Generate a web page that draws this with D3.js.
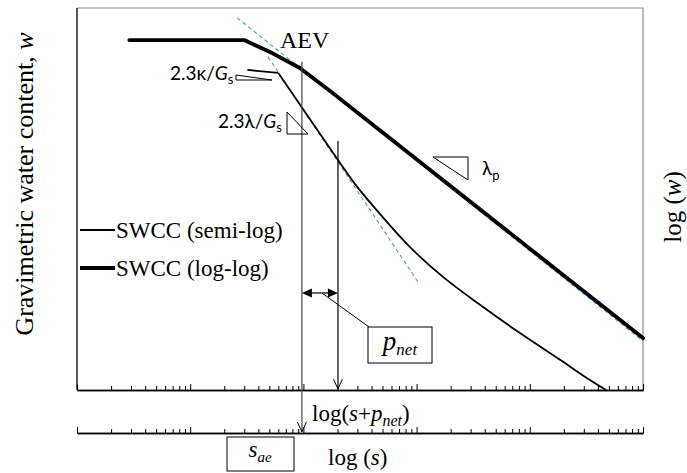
<!DOCTYPE html>
<html>
<head>
<meta charset="utf-8">
<script src="https://cdn.jsdelivr.net/npm/d3@7"></script>
<style>
  body { margin: 0; background: #fff; }
  svg { display: block; }
</style>
</head>
<body>
<svg id="chart" width="687" height="473"></svg>
<script>
// SWCC schematic: semi-log vs log-log, suction on a log axis

// suction s (log axis, arbitrary units) and log(w) in % of the plot height
const sLogLog = [2.9, 30, 53, 93, 172, 1e5]
const wLogLog = [91.6, 91.6, 88.2, 84.3, 78.3, 13.6]

const sSemiLog = [32, 60, 202, 286, 412, 875, 1710, 3630, 8190, 18500, 34000, 47100]
const wSemiLog = [83.8, 83.0, 60.2, 53.9, 48.2, 37.4, 29.6, 22.3, 14.9, 7.9, 2.6, 0]

const sTanLogLog = [26, 1e5]
const wTanLogLog = [97.4, 12.8]
const sTanSemi = [48.7, 1028]
const wTanSemi = [87.2, 28.3]

// AEV marker and the shifted (s + p_net) marker
const sMarks = [97, 202]
const wMarkTop = [85.9, 65.2]
const wNetArrow = 25.4

const decades = [1, 10, 100, 1000, 10000, 100000]
const minorTicks = []
for (const d of decades.slice(0, -1)) for (let m = 2; m <= 9; m++) minorTicks.push(m * d)

const svg = d3.select('#chart')
const L = 77, R = 643, T = 8, B = 390, B2 = 433

const x = d3.scaleLog().domain([1, 1e5]).range([L, R])
const y = d3.scaleLinear().domain([0, 100]).range([B, T])

const serif = '"Liberation Serif", "Times New Roman", serif'
const sans = 'Lato, "Liberation Sans", sans-serif'

// frame (top/right grey, left/bottom black)
svg.append('path')
  .attr('d', `M${L},${T}H${R}V${B}`)
  .attr('fill', 'none').attr('stroke', '#8c8c8c').attr('stroke-width', 1.2)
svg.append('line').attr('x1', L).attr('x2', L).attr('y1', T).attr('y2', B)
  .attr('stroke', '#000').attr('stroke-width', 1.3)

function drawAxis(yPos) {
  const g = svg.append('g').attr('transform', `translate(0,${yPos})`)
  g.call(d3.axisTop(x).tickValues(minorTicks).tickSize(4).tickSizeOuter(0).tickFormat(''))
  g.append('g').call(d3.axisTop(x).tickValues(decades).tickSize(6).tickSizeOuter(0).tickFormat(''))
  g.selectAll('.domain').attr('stroke', '#000').attr('stroke-width', 1.4)
  g.selectAll('.tick line').attr('stroke', '#000').attr('stroke-width', 1)
}
drawAxis(B)
drawAxis(B2)

const line = d3.line().x(d => x(d[0])).y(d => y(d[1]))

// blue dashed tangents
for (const [ss, ww] of [[sTanLogLog, wTanLogLog], [sTanSemi, wTanSemi]]) {
  svg.append('path')
    .attr('d', line(d3.zip(ss, ww)))
    .attr('fill', 'none').attr('stroke', '#5b8fd6').attr('stroke-width', 1.1)
    .attr('stroke-dasharray', '4,3')
}

// log-log SWCC (thick)
svg.append('path')
  .attr('d', line(d3.zip(sLogLog, wLogLog)))
  .attr('fill', 'none').attr('stroke', '#000').attr('stroke-width', 3.8)
  .attr('stroke-linejoin', 'round').attr('stroke-linecap', 'round')

// semi-log SWCC (thin): sharp kink then smooth drying branch
const semiPts = d3.zip(sSemiLog, wSemiLog)
svg.append('path')
  .attr('d', line(semiPts.slice(0, 2)))
  .attr('fill', 'none').attr('stroke', '#000').attr('stroke-width', 1.8)
const smooth = d3.line().x(d => x(d[0])).y(d => y(d[1])).curve(d3.curveCatmullRom.alpha(0.5))
svg.append('path')
  .attr('d', smooth(semiPts.slice(1)))
  .attr('fill', 'none').attr('stroke', '#000').attr('stroke-width', 1.8)

// vertical markers with open arrowheads
function openArrowDown(px, py) {
  svg.append('path')
    .attr('d', `M${px - 4.5},${py - 10}L${px},${py}L${px + 4.5},${py - 10}`)
    .attr('fill', 'none').attr('stroke', '#000').attr('stroke-width', 1)
}
svg.append('line')
  .attr('x1', x(sMarks[0])).attr('x2', x(sMarks[0]))
  .attr('y1', y(wMarkTop[0])).attr('y2', B2 - 1)
  .attr('stroke', '#555').attr('stroke-width', 1.3)
openArrowDown(x(sMarks[0]), B2 - 1)
svg.append('line')
  .attr('x1', x(sMarks[1])).attr('x2', x(sMarks[1]))
  .attr('y1', y(wMarkTop[1])).attr('y2', B - 1)
  .attr('stroke', '#000').attr('stroke-width', 1.2)
openArrowDown(x(sMarks[1]), B - 1)

// p_net double arrow
const ax0 = x(sMarks[0]), ax1 = x(sMarks[1]), ay = y(wNetArrow)
svg.append('line').attr('x1', ax0 + 8).attr('x2', ax1 - 8).attr('y1', ay).attr('y2', ay)
  .attr('stroke', '#000').attr('stroke-width', 1.2)
svg.append('path').attr('d', `M${ax0},${ay}L${ax0 + 10},${ay - 4.5}L${ax0 + 10},${ay + 4.5}Z`).attr('fill', '#000')
svg.append('path').attr('d', `M${ax1},${ay}L${ax1 - 10},${ay - 4.5}L${ax1 - 10},${ay + 4.5}Z`).attr('fill', '#000')

// callout boxes
svg.append('line').attr('x1', (ax0 + ax1) / 2 + 2).attr('y1', ay).attr('x2', 369).attr('y2', 327)
  .attr('stroke', '#000').attr('stroke-width', 1)
svg.append('rect').attr('x', 368).attr('y', 327).attr('width', 64).attr('height', 36)
  .attr('fill', '#fff').attr('stroke', '#000').attr('stroke-width', 1)
const pt = svg.append('text').attr('x', 400).attr('y', 350).attr('text-anchor', 'middle')
  .style('font-family', serif).style('font-style', 'italic').style('font-size', '27px')
pt.append('tspan').text('p')
pt.append('tspan').attr('dy', 5).style('font-size', '17px').text('net')

svg.append('rect').attr('x', 227).attr('y', 437).attr('width', 67).attr('height', 34)
  .attr('fill', '#fff').attr('stroke', '#000').attr('stroke-width', 1)
const st = svg.append('text').attr('x', 260).attr('y', 457).attr('text-anchor', 'middle')
  .style('font-family', serif).style('font-style', 'italic').style('font-size', '23px')
st.append('tspan').text('s')
st.append('tspan').attr('dy', 5).style('font-size', '15px').text('ae')

// slope triangles
function tri(pts) {
  svg.append('path').attr('d', 'M' + pts.map(p => p.join(',')).join('L') + 'Z')
    .attr('fill', 'none').attr('stroke', '#000').attr('stroke-width', 1)
}
tri([[236, 75], [236, 80], [272, 80]])
tri([[287, 112], [287, 134], [308, 134]])
tri([[433, 157], [468, 157], [468, 180]])

// sans labels
function slopeLabel(px, py, pre) {
  const t = svg.append('text').attr('x', px).attr('y', py)
    .style('font-family', sans).style('font-size', '19px').attr('fill', '#000')
  t.append('tspan').text(pre + '/')
  t.append('tspan').style('font-style', 'italic').text('G')
  t.append('tspan').attr('dy', 4).style('font-size', '13px').text('s')
}
slopeLabel(170, 80, '2.3\u03ba')
slopeLabel(218, 128, '2.3\u03bb')
const lp = svg.append('text').attr('x', 482).attr('y', 175)
  .style('font-family', sans).style('font-size', '19px')
lp.append('tspan').text('\u03bb')
lp.append('tspan').attr('dy', 5).style('font-size', '13px').text('p')

// serif labels
svg.append('text').attr('x', 280).attr('y', 48)
  .style('font-family', serif).style('font-size', '24px').text('AEV')

const leg = [['SWCC (semi-log)', 1.8, 230], ['SWCC (log-log)', 4, 268]]
for (const [label, w, ly] of leg) {
  svg.append('line').attr('x1', 80).attr('x2', 115).attr('y1', ly).attr('y2', ly)
    .attr('stroke', '#000').attr('stroke-width', w)
  svg.append('text').attr('x', 116).attr('y', ly + 8)
    .style('font-family', serif).style('font-size', '23px').text(label)
}

const xl = svg.append('text').attr('x', 312).attr('y', 421)
  .style('font-family', serif).style('font-size', '23px')
xl.append('tspan').text('log(')
xl.append('tspan').style('font-style', 'italic').text('s')
xl.append('tspan').text('+')
xl.append('tspan').style('font-style', 'italic').text('p')
xl.append('tspan').attr('dy', 5).style('font-style', 'italic').style('font-size', '16px').text('net')
xl.append('tspan').attr('dy', -5).text(')')

const xl2 = svg.append('text').attr('x', 328).attr('y', 465)
  .style('font-family', serif).style('font-size', '23px')
xl2.append('tspan').text('log (')
xl2.append('tspan').style('font-style', 'italic').text('s')
xl2.append('tspan').text(')')

const yt = svg.append('text').attr('transform', 'translate(33,184) rotate(-90)')
  .attr('text-anchor', 'middle').style('font-family', serif).style('font-size', '26px')
yt.append('tspan').text('Gravimetric water content, ')
yt.append('tspan').style('font-style', 'italic').text('w')

const yr = svg.append('text').attr('transform', 'translate(681,207) rotate(-90)')
  .attr('text-anchor', 'middle').style('font-family', serif).style('font-size', '25px')
yr.append('tspan').text('log (')
yr.append('tspan').style('font-style', 'italic').text('w')
yr.append('tspan').text(')')
</script>
</body>
</html>
